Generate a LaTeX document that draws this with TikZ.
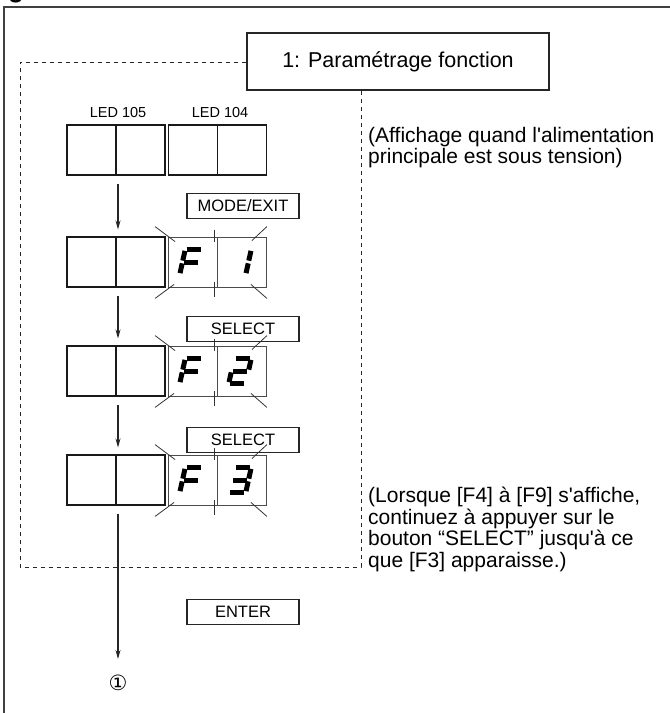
\documentclass[tikz,border=0pt]{standalone}
\usepackage{fontspec}
\setmainfont{Liberation Sans}
\newfontfamily\symfont{DejaVu Sans}
\usetikzlibrary{arrows.meta, positioning}

% one 7-segment stroke, in the local frame of a digit (y points down)
\newcommand{\segA}{\draw[dseg] (-8.5,-12.5) -- (8.5,-12.5);}
\newcommand{\segB}{\draw[dseg] (8.5,-12.5) -- (8.5,0);}
\newcommand{\segC}{\draw[dseg] (8.5,0) -- (8.5,12.5);}
\newcommand{\segD}{\draw[dseg] (-8.5,12.5) -- (8.5,12.5);}
\newcommand{\segE}{\draw[dseg] (-8.5,0) -- (-8.5,12.5);}
\newcommand{\segF}{\draw[dseg] (-8.5,-12.5) -- (-8.5,0);}
\newcommand{\segG}{\draw[dseg] (-8.5,0) -- (8.5,0);}

\begin{document}
\begin{tikzpicture}[x=1pt,y=-1pt,
  frame/.style={line width=1.5pt,draw=black!75},
  titlebox/.style={rectangle,draw=black!85,line width=1.1pt,minimum width=302pt,minimum height=57pt,
    inner sep=0pt,font=\fontsize{21.5}{24}\selectfont},
  grp/.style={rectangle,draw=black!90,line width=1.1pt,minimum width=98pt,minimum height=50pt,inner sep=0pt},
  blink/.style={rectangle,draw=black!70,line width=0.8pt,minimum width=98pt,minimum height=50pt,inner sep=0pt},
  btn/.style={rectangle,draw=black!85,line width=1.1pt,minimum width=112pt,minimum height=25pt,
    inner sep=0pt,font=\fontsize{16.5}{18}\selectfont},
  ledlbl/.style={font=\fontsize{14.5}{16}\selectfont,inner sep=0pt},
  note/.style={align=left,anchor=north west,inner sep=0pt,font=\fontsize{21}{21.5}\selectfont},
  arr/.style={-{Stealth[length=9pt,width=5pt]},line width=1.1pt,black!85},
  dashbox/.style={dashed,dash pattern=on 4pt off 4pt,line width=1pt,black!85},
  ray/.style={line width=0.8pt,black!80},
  dseg/.style={line width=5pt,black,shorten <=1.4pt,shorten >=1.4pt}
]
\useasboundingbox (0,0) rectangle (670,713);

% cut-off page heading and frame
\begin{scope}
  \clip (0,0) rectangle (670,5.5);
  \node[font=\fontsize{26}{28}\bfseries,anchor=base west,inner sep=0pt] (hdg) at (8,-3) {g};
\end{scope}
\draw[frame] (670,7) -- (4,7) -- (4,713);

% title and dashed frame
\node[titlebox] (title) at (398,61.5) {1: Paramétrage fonction};
\draw[dashbox] (title.west |- 0,62) -- (20,62) -- (20,567) -- (361,567) -- (361,0 |- title.south);

% LED labels
\node[ledlbl] (l105) at (118,113) {LED 105};
\node[ledlbl] (l104) at (220,113) {LED 104};

% four rows of displays
\foreach \r/\y in {1/150,2/262,3/371,4/480}{
  \node[grp] (a\r) at (116,\y) {};
  \draw[line width=1.1pt,black!90] (a\r.north) -- (a\r.south);
}
\node[grp] (b1) at (217.5,150) {};
\draw[line width=1.1pt,black!90] (b1.north) -- (b1.south);
\foreach \r/\y in {2/262,3/371,4/480}{
  \node[blink] (b\r) at (217.5,\y) {};
  \draw[line width=0.8pt,black!70] (b\r.north) -- (b\r.south);
  % blinking rays
  \draw[ray] ([shift={(-13,-10)}]b\r.north west) -- ([shift={(7,5)}]b\r.north west);
  \draw[ray] ([shift={(0,-10)}]b\r.north east) -- ([shift={(-15,4)}]b\r.north east);
  \draw[ray] ([shift={(6,-3)}]b\r.south west) -- ([shift={(-13,11)}]b\r.south west);
  \draw[ray] ([shift={(-16,-3)}]b\r.south east) -- ([shift={(0,11)}]b\r.south east);
  \draw[ray] ([shift={(-3,-7)}]b\r.north) -- ([shift={(-3,5)}]b\r.north);
  \draw[ray] ([shift={(-3,-5)}]b\r.south) -- ([shift={(-3,10)}]b\r.south);
}

% digits F1, F2, F3
\foreach \y in {262,371,480}{
  \begin{scope}[shift={(191,\y)},xslant=0.22]
    \segA \segF \segE \segG
  \end{scope}
}
\begin{scope}[shift={(240,262)},xslant=0.22] \segB \segC \end{scope}
\begin{scope}[shift={(240,371)},xslant=0.22] \segA \segB \segG \segE \segD \end{scope}
\begin{scope}[shift={(240,480)},xslant=0.22] \segA \segB \segG \segC \segD \end{scope}

% buttons
\node[btn] (mode) at (243,206) {MODE/EXIT};
\node[btn] (sel1) at (243,329) {SELECT};
\node[btn] (sel2) at (243,440) {SELECT};
\node[btn] (enter) at (243,612) {ENTER};

% flow arrows
\coordinate (x) at (118,0);
\node[inner sep=0pt] (res) at (118,683) {\symfont\fontsize{21}{22}\selectfont ①};
\draw[arr] ([yshift=-8]a1.south -| x) -- ([yshift=7]a2.north -| x);
\draw[arr] ([yshift=-8]a2.south -| x) -- ([yshift=7]a3.north -| x);
\draw[arr] ([yshift=-8]a3.south -| x) -- ([yshift=7]a4.north -| x);
\draw[arr] ([yshift=-8]a4.south -| x) -- ([yshift=16]res.north);

% notes
\node[note] (n1) at (368,127) {(Affichage quand l\textquotesingle alimentation\\principale est sous tension)};
\node[note] (n2) at (368,487) {(Lorsque [F4] à [F9] s\textquotesingle affiche,\\continuez à appuyer sur le\\bouton “SELECT” jusqu\textquotesingle à ce\\que [F3] apparaisse.)};
\end{tikzpicture}
\end{document}
